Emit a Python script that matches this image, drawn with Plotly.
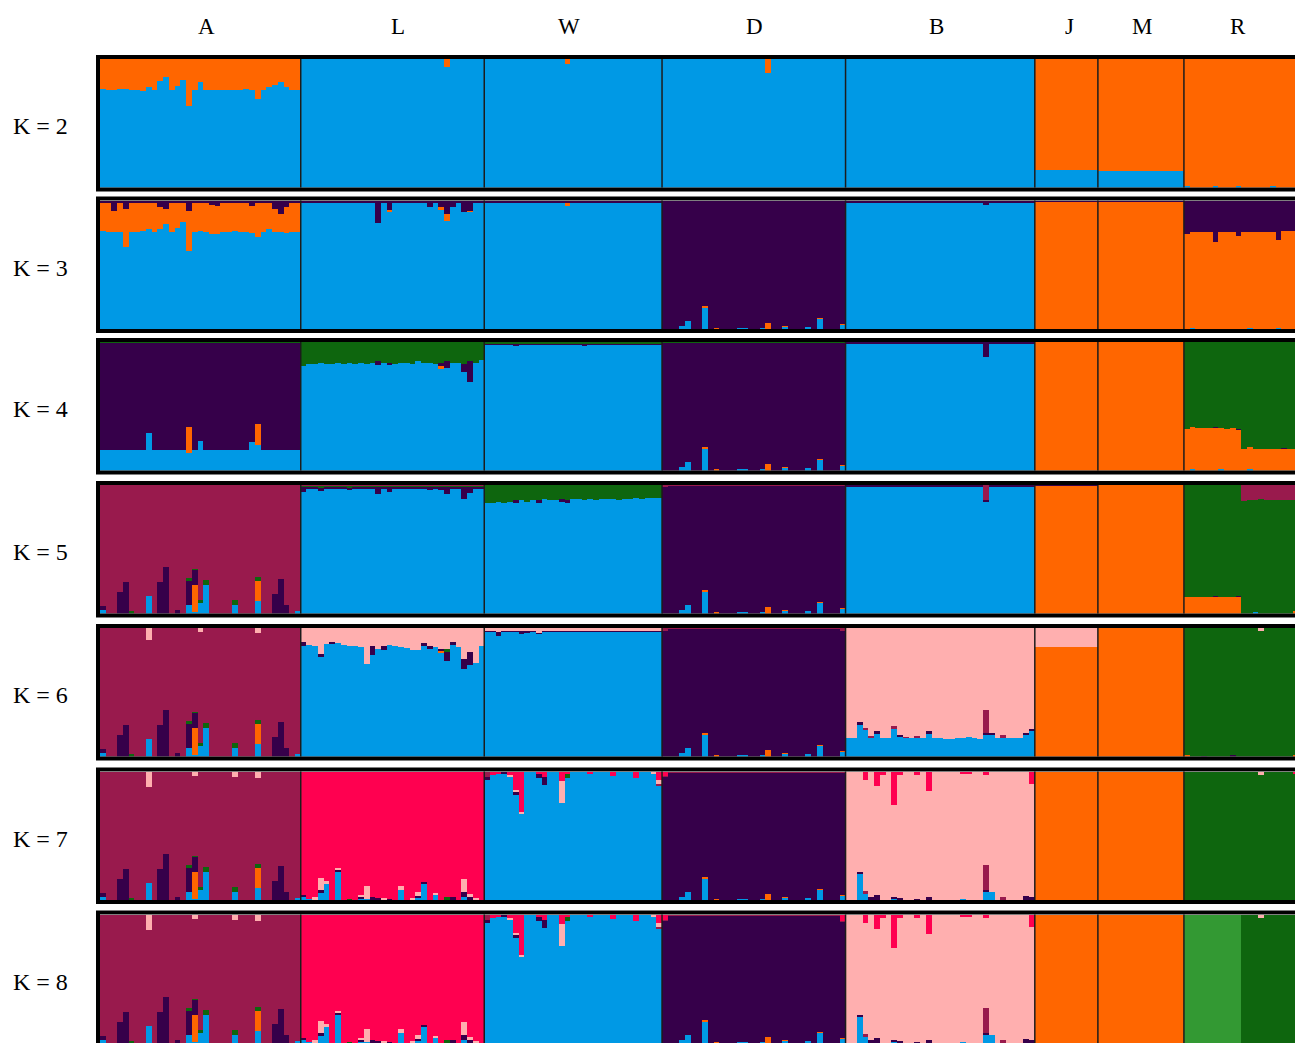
import plotly.graph_objects as go

# ---------------------------------------------------------------------------
# Cluster palette (stacking order, bottom -> top) and sampling design
# ---------------------------------------------------------------------------
CLUSTERS = ["blue", "orange", "purple", "green", "maroon", "pink", "red", "lgreen"]
CLUSTER_COLORS = ["#0099E5", "#FF6600", "#36004A", "#0E660E",
                  "#991A4D", "#FFAFAF", "#FF0050", "#339933"]
POPS = ["A", "L", "W", "D", "B", "J", "M", "R"]
POP_SIZES = [35, 32, 31, 32, 33, 11, 15, 20]
K_VALUES = [2, 3, 4, 5, 6, 7, 8]

# Membership (Q) values.  Each population: (main cluster, {cluster: values}).
# values: list = one per individual, dict = individual -> value (else 0),
# tuple = (common value, {individual: value}), float = common value.
# The main cluster receives the remainder of each individual's membership.

A2_ORANGE = [0.23, 0.24, 0.24, 0.23, 0.23, 0.24, 0.24, 0.25, 0.22, 0.24,
             0.175, 0.14, 0.24, 0.21, 0.16, 0.365, 0.24, 0.18, 0.24, 0.24,
             0.245, 0.24, 0.245, 0.24, 0.245, 0.235, 0.24, 0.31, 0.24, 0.22,
             0.20, 0.18, 0.22, 0.245, 0.245]

A3_ORANGE = [0.22, 0.23, 0.16, 0.23, 0.30, 0.23, 0.23, 0.22, 0.21, 0.23,
             0.17, 0.12, 0.23, 0.20, 0.15, 0.31, 0.23, 0.22, 0.23, 0.23,
             0.22, 0.23, 0.23, 0.22, 0.23, 0.23, 0.21, 0.27, 0.23, 0.21,
             0.18, 0.14, 0.20, 0.23, 0.23]
A3_PURPLE = (0.01, {2: 0.08, 4: 0.06, 10: 0.05, 11: 0.06, 15: 0.08, 19: 0.03,
                    20: 0.04, 26: 0.04, 30: 0.06, 31: 0.10, 32: 0.05})

# lower part of the A individuals from K = 5 upward
A_LOW_BLUE = {0: 0.03, 8: 0.14, 15: 0.07, 16: 0.01, 17: 0.08, 18: 0.22,
              23: 0.065, 27: 0.10, 34: 0.02}
A_LOW_ORANGE = {16: 0.21, 27: 0.155}
A_LOW_PURPLE = {0: 0.03, 3: 0.17, 4: 0.245, 10: 0.245, 11: 0.36, 13: 0.03,
                15: 0.19, 16: 0.12, 30: 0.155, 31: 0.27, 32: 0.065}
A_LOW_GREEN = {5: 0.02, 15: 0.015, 16: 0.01, 17: 0.025, 18: 0.04, 23: 0.04,
               27: 0.03}
A6_PINK = {8: 0.09, 17: 0.03, 27: 0.04}
A7_PINK = {8: 0.12, 16: 0.03, 23: 0.035, 27: 0.045}

D_LOW_BLUE = {3: 0.03, 4: 0.07, 7: 0.175, 13: 0.01, 14: 0.01, 17: 0.015,
              21: 0.02, 25: 0.02, 27: 0.085, 31: 0.035}
D_LOW_ORANGE = {7: 0.008, 9: 0.01, 18: 0.05, 21: 0.01, 27: 0.008, 31: 0.01}

L3_PURPLE = (0.015, {13: 0.17, 15: 0.07, 22: 0.05, 24: 0.05, 25: 0.10,
                     26: 0.047, 28: 0.086, 29: 0.075})
L3_ORANGE = {15: 0.01, 24: 0.015, 25: 0.057, 29: 0.01}
L4_GREEN = [0.19, 0.17, 0.17, 0.16, 0.17, 0.17, 0.16, 0.17, 0.16, 0.17,
            0.16, 0.17, 0.16, 0.15, 0.16, 0.16, 0.17, 0.16, 0.16, 0.17,
            0.15, 0.16, 0.16, 0.17, 0.16, 0.15, 0.16, 0.16, 0.17, 0.15,
            0.16, 0.14]
L4_PURPLE = {13: 0.03, 15: 0.02, 24: 0.03, 25: 0.05, 28: 0.06, 29: 0.16}
L5_PURPLE = (0.015, {0: 0.04, 13: 0.06, 15: 0.04, 22: 0.03, 24: 0.03,
                     25: 0.06, 28: 0.10, 29: 0.05})
L6_PINK = [0.11, 0.13, 0.14, 0.20, 0.125, 0.11, 0.12, 0.13, 0.14, 0.14,
           0.15, 0.28, 0.14, 0.16, 0.14, 0.13, 0.14, 0.15, 0.155, 0.17,
           0.17, 0.12, 0.14, 0.15, 0.16, 0.16, 0.11, 0.145, 0.24, 0.19,
           0.275, 0.14]
L6_PURPLE = {0: 0.03, 3: 0.026, 5: 0.016, 12: 0.07, 14: 0.035, 21: 0.02,
             22: 0.026, 24: 0.02, 25: 0.073, 26: 0.026, 28: 0.08, 29: 0.10}
L7_BLUE = {0: 0.026, 1: 0.013, 3: 0.065, 4: 0.13, 6: 0.22, 10: 0.018,
           11: 0.013, 17: 0.085, 20: 0.026, 21: 0.13, 23: 0.04, 28: 0.026}
L7_PURPLE = {0: 0.018, 3: 0.013, 6: 0.018, 10: 0.01, 12: 0.026, 13: 0.02,
             15: 0.015, 20: 0.01, 21: 0.013, 26: 0.03, 28: 0.04, 29: 0.03}
L7_PINK = {2: 0.026, 3: 0.10, 4: 0.02, 6: 0.015, 10: 0.015, 11: 0.10,
           14: 0.02, 17: 0.026, 19: 0.02, 20: 0.03, 23: 0.018, 28: 0.10,
           29: 0.02, 30: 0.02}
L7_GREEN = {8: 0.008, 25: 0.03}

W5_GREEN = [0.14, 0.14, 0.13, 0.14, 0.13, 0.12, 0.12, 0.13, 0.12, 0.12,
            0.11, 0.12, 0.12, 0.11, 0.12, 0.11, 0.11, 0.12, 0.11, 0.12,
            0.11, 0.11, 0.11, 0.12, 0.11, 0.11, 0.10, 0.11, 0.10, 0.10, 0.10]
W7_RED = {1: 0.02, 2: 0.015, 4: 0.02, 5: 0.14, 6: 0.31, 9: 0.013, 10: 0.04,
          13: 0.073, 14: 0.013, 18: 0.01, 22: 0.03, 26: 0.047, 30: 0.065}
W7_PINK = {4: 0.018, 5: 0.013, 6: 0.018, 13: 0.17, 29: 0.01, 30: 0.026}
W7_PURPLE = {0: 0.02, 3: 0.01, 5: 0.026, 9: 0.035, 10: 0.065}
W7_MAROON = {0: 0.04, 30: 0.018}
W7_GREEN = {14: 0.035}

B6_BLUE = [0.145, 0.145, 0.25, 0.21, 0.145, 0.18, 0.145, 0.145, 0.22, 0.155,
           0.145, 0.145, 0.15, 0.145, 0.18, 0.145, 0.145, 0.14, 0.14, 0.145,
           0.145, 0.15, 0.145, 0.14, 0.17, 0.17, 0.145, 0.15, 0.145, 0.145,
           0.145, 0.17, 0.20]
B6_PURPLE = {2: 0.015, 5: 0.015, 9: 0.015, 14: 0.015, 24: 0.015, 25: 0.01,
             31: 0.015, 32: 0.015}
B6_MAROON = {3: 0.015, 4: 0.015, 8: 0.015, 10: 0.01, 12: 0.01, 24: 0.18,
             27: 0.015}
B7_RED = {3: 0.065, 5: 0.11, 6: 0.026, 8: 0.255, 9: 0.026, 12: 0.02,
          14: 0.145, 20: 0.013, 21: 0.013, 24: 0.02, 32: 0.09}
B7_BLUE = {2: 0.21, 3: 0.05, 8: 0.013, 20: 0.013, 24: 0.065, 25: 0.07,
           32: 0.01}
B7_PURPLE = {2: 0.013, 4: 0.026, 5: 0.04, 8: 0.013, 9: 0.02, 12: 0.015,
             14: 0.03, 24: 0.018, 31: 0.035, 32: 0.015}
B7_MAROON = {3: 0.026, 24: 0.195, 27: 0.026}

R3_PURPLE = [0.255, 0.24, 0.24, 0.24, 0.24, 0.32, 0.24, 0.245, 0.245, 0.27,
             0.245, 0.24, 0.24, 0.24, 0.24, 0.24, 0.30, 0.235, 0.235, 0.235]
R4_ORANGE = [0.325, 0.33, 0.33, 0.33, 0.33, 0.335, 0.325, 0.325, 0.33, 0.32,
             0.17, 0.17, 0.17, 0.17, 0.165, 0.165, 0.165, 0.17, 0.17, 0.17]
R5_ORANGE = [0.125, 0.13, 0.13, 0.13, 0.13, 0.13, 0.13, 0.13, 0.13, 0.13,
             0.0, 0.0, 0.0, 0.0, 0.0, 0.0, 0.0, 0.0, 0.0, 0.02]
R5_MAROON = [0.0, 0.0, 0.0, 0.0, 0.0, 0.0, 0.0, 0.0, 0.0, 0.0,
             0.125, 0.12, 0.12, 0.11, 0.115, 0.115, 0.115, 0.115, 0.115, 0.115]
R8_GREEN = [0.0, 0.0, 0.0, 0.0, 0.0, 0.0, 0.0, 0.0, 0.0, 0.0,
            1.0, 1.0, 1.0, 0.98, 1.0, 1.0, 1.0, 1.0, 1.0, 1.0]

Q2 = {
    "A": ("blue", {"orange": A2_ORANGE}),
    "L": ("blue", {"orange": {25: 0.06}}),
    "W": ("blue", {"orange": {14: 0.04}}),
    "D": ("blue", {"orange": {18: 0.11}}),
    "B": ("blue", {}),
    "J": ("orange", {"blue": 0.14}),
    "M": ("orange", {"blue": 0.13}),
    "R": ("orange", {"blue": {0: 0.012, 5: 0.015, 9: 0.01, 15: 0.01}}),
}
Q3 = {
    "A": ("blue", {"orange": A3_ORANGE, "purple": A3_PURPLE}),
    "L": ("blue", {"orange": L3_ORANGE, "purple": L3_PURPLE}),
    "W": ("blue", {"orange": {14: 0.03}, "purple": 0.01}),
    "D": ("purple", {"blue": D_LOW_BLUE, "orange": D_LOW_ORANGE}),
    "B": ("blue", {"purple": (0.012, {24: 0.03})}),
    "J": ("orange", {"purple": 0.006}),
    "M": ("orange", {"purple": 0.005}),
    "R": ("orange", {"purple": R3_PURPLE, "blue": {1: 0.012, 11: 0.01, 16: 0.012}}),
}
Q4 = {
    "A": ("purple", {"blue": (0.16, {8: 0.29, 15: 0.14, 17: 0.23, 26: 0.22, 27: 0.2}),
                     "orange": {15: 0.2, 27: 0.16}, "green": 0.006}),
    "L": ("blue", {"green": L4_GREEN, "purple": L4_PURPLE, "orange": {24: 0.02}}),
    "W": ("blue", {"green": 0.012, "purple": (0.008, {5: 0.02, 17: 0.015})}),
    "D": ("purple", {"blue": D_LOW_BLUE, "orange": D_LOW_ORANGE, "green": 0.005}),
    "B": ("blue", {"purple": (0.012, {24: 0.12})}),
    "J": ("orange", {}),
    "M": ("orange", {}),
    "R": ("green", {"orange": R4_ORANGE, "purple": {5: 0.006, 9: 0.004, 17: 0.004},
                    "blue": {1: 0.01, 6: 0.008, 11: 0.01}}),
}
Q5 = {
    "A": ("maroon", {"blue": A_LOW_BLUE, "orange": A_LOW_ORANGE,
                     "purple": A_LOW_PURPLE, "green": A_LOW_GREEN}),
    "L": ("blue", {"purple": L5_PURPLE, "green": (0.008, {3: 0.02, 8: 0.015}),
                   "maroon": 0.004}),
    "W": ("blue", {"green": W5_GREEN, "purple": {5: 0.02, 9: 0.015, 13: 0.02, 14: 0.015}}),
    "D": ("purple", {"blue": D_LOW_BLUE, "orange": D_LOW_ORANGE,
                     "maroon": (0.004, {0: 0.015})}),
    "B": ("blue", {"purple": 0.01, "maroon": {24: 0.12}}),
    "J": ("orange", {"purple": 0.004}),
    "M": ("orange", {}),
    "R": ("green", {"orange": R5_ORANGE, "maroon": R5_MAROON,
                    "purple": {5: 0.01, 9: 0.01}, "blue": {12: 0.012}}),
}
Q6 = {
    "A": ("maroon", {"blue": A_LOW_BLUE, "orange": A_LOW_ORANGE, "purple": A_LOW_PURPLE,
                     "green": A_LOW_GREEN, "pink": A6_PINK}),
    "L": ("blue", {"pink": L6_PINK, "purple": L6_PURPLE, "green": {25: 0.026},
                   "orange": {24: 0.01}}),
    "W": ("blue", {"pink": (0.02, {2: 0.03, 9: 0.035}),
                   "purple": (0.005, {2: 0.03, 6: 0.025, 7: 0.02})}),
    "D": ("purple", {"blue": D_LOW_BLUE, "orange": D_LOW_ORANGE,
                     "maroon": (0.004, {0: 0.02, 31: 0.02})}),
    "B": ("pink", {"blue": B6_BLUE, "purple": B6_PURPLE, "maroon": B6_MAROON}),
    "J": ("orange", {"pink": 0.15}),
    "M": ("orange", {}),
    "R": ("green", {"pink": {13: 0.02}, "purple": {3: 0.006, 8: 0.008},
                    "orange": {0: 0.01, 19: 0.01}}),
}
Q7 = {
    "A": ("maroon", {"blue": A_LOW_BLUE, "orange": A_LOW_ORANGE, "purple": A_LOW_PURPLE,
                     "green": A_LOW_GREEN, "pink": A7_PINK}),
    "L": ("red", {"blue": L7_BLUE, "purple": L7_PURPLE, "pink": L7_PINK,
                  "green": L7_GREEN}),
    "W": ("blue", {"red": W7_RED, "pink": W7_PINK, "purple": W7_PURPLE,
                   "maroon": W7_MAROON, "green": W7_GREEN}),
    "D": ("purple", {"blue": D_LOW_BLUE, "orange": D_LOW_ORANGE,
                     "red": {0: 0.03}, "maroon": 0.004}),
    "B": ("pink", {"red": B7_RED, "blue": B7_BLUE, "purple": B7_PURPLE,
                   "maroon": B7_MAROON}),
    "J": ("orange", {}),
    "M": ("orange", {}),
    "R": ("green", {"pink": {13: 0.025}, "red": {19: 0.01}}),
}
Q8 = {
    "A": Q7["A"],
    "L": Q7["L"],
    "W": Q7["W"],
    "D": ("purple", {"blue": D_LOW_BLUE, "orange": D_LOW_ORANGE,
                     "red": {0: 0.04, 31: 0.05}, "maroon": 0.004}),
    "B": Q7["B"],
    "J": ("orange", {}),
    "M": ("orange", {}),
    "R": ("lgreen", {"green": R8_GREEN, "pink": {13: 0.02}}),
}
PANELS = [Q2, Q3, Q4, Q5, Q6, Q7, Q8]


def expand(spec, n):
    """Turn a membership spec into one value per individual."""
    if isinstance(spec, list):
        return [float(v) for v in spec]
    if isinstance(spec, tuple):
        base, over = spec
    elif isinstance(spec, dict):
        base, over = 0.0, spec
    else:
        base, over = float(spec), {}
    vals = [base] * n
    for i, v in over.items():
        vals[i] = v
    return vals


def panel_matrix(spec, k):
    clusters = CLUSTERS[:k]
    cols = {c: [] for c in clusters}
    for pop, n in zip(POPS, POP_SIZES):
        main, minors = spec[pop]
        rows = {c: [0.0] * n for c in clusters}
        for c, s in minors.items():
            rows[c] = expand(s, n)
        rows[main] = [max(0.0, 1.0 - sum(rows[c][i] for c in clusters if c != main))
                      for i in range(n)]
        for c in clusters:
            cols[c].extend(rows[c])
    return cols


# ---------------------------------------------------------------------------
# Geometry (pixels)
# ---------------------------------------------------------------------------
FIG_W, FIG_H = 1295, 1043
PLOT_LEFT = 100
BAR_PX = 5.735
PANEL_TOPS = [59, 200.5, 342, 485, 628, 771.5, 914.5]
PANEL_H = 128.5
PLOT_W = FIG_W - PLOT_LEFT
LABEL_PX = [206, 398, 569, 754, 936, 1069, 1142, 1238]   # population name centres
LABEL_Y_PX = 27
K_LABEL_X_PX = 40

x_range = [-0.5, -0.5 + PLOT_W / BAR_PX]
n_total = sum(POP_SIZES)
xs = list(range(n_total))

starts = []
acc = 0
for n in POP_SIZES:
    starts.append(acc)
    acc += n
boundaries = [s - 0.5 for s in starts[1:]]


def py(p):
    return 1 - p / FIG_H


def px(p):
    return (p - PLOT_LEFT) / PLOT_W


fig = go.Figure()
layout = dict(
    width=FIG_W, height=FIG_H,
    margin=dict(l=PLOT_LEFT, r=0, t=0, b=0, pad=0),
    paper_bgcolor="white", plot_bgcolor="white",
    barmode="stack", bargap=0, bargroupgap=0,
    showlegend=False,
    shapes=[], annotations=[],
)

for r, (k, spec) in enumerate(zip(K_VALUES, PANELS)):
    sfx = "" if r == 0 else str(r + 1)
    top = PANEL_TOPS[r]
    bottom = top + PANEL_H
    layout["xaxis" + sfx] = dict(domain=[0, 1], range=x_range, visible=False,
                                 anchor="y" + sfx, fixedrange=True)
    layout["yaxis" + sfx] = dict(domain=[max(0.0, py(bottom)), py(top)], range=[0, 1],
                                 visible=False, anchor="x" + sfx, fixedrange=True)
    cols = panel_matrix(spec, k)
    for ci, c in enumerate(CLUSTERS[:k]):
        fig.add_trace(go.Bar(
            x=xs, y=cols[c], width=1.0,
            marker=dict(color=CLUSTER_COLORS[ci], line=dict(width=0)),
            xaxis="x" + sfx, yaxis="y" + sfx, hoverinfo="skip",
        ))
    # population separators
    for b in boundaries:
        layout["shapes"].append(dict(
            type="line", xref="x" + sfx, yref="y" + sfx + " domain",
            x0=b, x1=b, y0=0, y1=1, line=dict(color="#1c1c1c", width=1.5),
            layer="above"))
    # panel frame
    layout["shapes"].append(dict(
        type="rect", xref="paper", yref="paper",
        x0=px(PLOT_LEFT - 2), x1=px(FIG_W + 20), y0=py(bottom + 2), y1=py(top - 2),
        line=dict(color="black", width=4), fillcolor="rgba(0,0,0,0)", layer="above"))
    # K label
    layout["annotations"].append(dict(
        text=f"K = {k}", xref="paper", yref="paper",
        x=px(K_LABEL_X_PX), y=py(top + PANEL_H / 2 + 3), xanchor="center",
        yanchor="middle", showarrow=False,
        font=dict(family="Liberation Serif", size=24, color="black")))

# population names above the first panel
for pop, lx in zip(POPS, LABEL_PX):
    layout["annotations"].append(dict(
        text=pop, xref="paper", yref="paper", x=px(lx), y=py(LABEL_Y_PX),
        xanchor="center", yanchor="middle", showarrow=False,
        font=dict(family="Liberation Serif", size=23, color="black")))

fig.update_layout(**layout)
fig.write_html("out.html")
